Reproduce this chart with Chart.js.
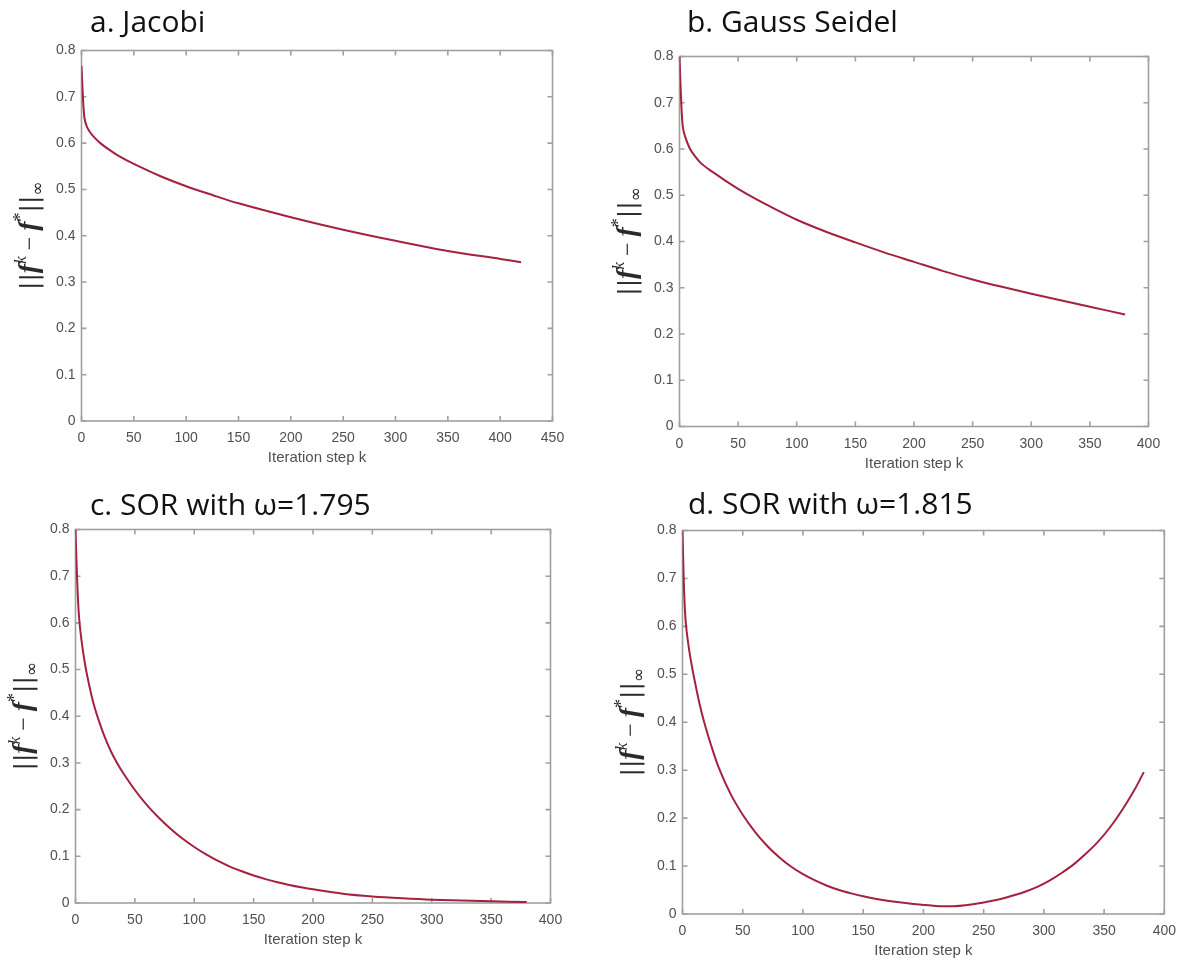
<!DOCTYPE html>
<html>
<head>
<meta charset="utf-8">
<title>Iterative solver convergence</title>
<script src="https://cdn.jsdelivr.net/npm/chart.js@4.4.1/dist/chart.umd.min.js"></script>
<style>
  html, body { margin: 0; padding: 0; background: #ffffff; }
  #page { position: relative; width: 1185px; height: 964px; overflow: hidden; }
  .panel { position: absolute; }
</style>
</head>
<body>
<div id="page"></div>
<script>
// ---- Data: error norm ||f^k - f*||_inf against iteration step k ----
const stepsJacobi = [0, 1, 2, 3, 5, 8, 12, 18, 25, 35, 50, 75, 100, 125, 150, 200, 250, 300, 350, 400, 420];
const errJacobi   = [0.767, 0.715, 0.675, 0.652, 0.636, 0.624, 0.613, 0.600, 0.588, 0.573, 0.555, 0.529, 0.507, 0.488, 0.470, 0.440, 0.413, 0.389, 0.367, 0.350, 0.343];

const stepsGauss = [0, 1, 2, 3, 5, 9, 13, 18, 25, 32, 40, 50, 65, 80, 100, 125, 150, 175, 200, 225, 250, 275, 300, 325, 350, 380];
const errGauss   = [0.80, 0.73, 0.675, 0.645, 0.625, 0.600, 0.585, 0.570, 0.556, 0.544, 0.530, 0.514, 0.492, 0.472, 0.447, 0.421, 0.398, 0.376, 0.356, 0.336, 0.318, 0.302, 0.287, 0.273, 0.259, 0.242];

const stepsSor1795 = [0, 1, 2, 3, 4, 6, 8, 10, 13, 16, 20, 25, 30, 35, 40, 50, 60, 70, 80, 90, 100, 110, 120, 130, 140, 150, 160, 170, 180, 190, 200, 225, 250, 275, 300, 350, 380];
const errSor1795   = [0.80, 0.72, 0.655, 0.612, 0.585, 0.545, 0.512, 0.485, 0.450, 0.420, 0.388, 0.353, 0.324, 0.300, 0.279, 0.242, 0.210, 0.183, 0.159, 0.138, 0.120, 0.104, 0.090, 0.078, 0.068, 0.059, 0.0512, 0.0445, 0.0387, 0.0337, 0.0293, 0.020, 0.014, 0.010, 0.007, 0.0035, 0.002];

const stepsSor1815 = [0, 1, 2, 3, 5, 7, 10, 14, 18, 24, 30, 40, 50, 60, 70, 80, 90, 100, 110, 120, 130, 140, 150, 160, 170, 180, 190, 200, 210, 218, 225, 235, 245, 255, 265, 275, 285, 295, 305, 315, 325, 335, 345, 355, 365, 375, 383];
const errSor1815   = [0.80, 0.70, 0.635, 0.60, 0.56, 0.528, 0.488, 0.44, 0.40, 0.35, 0.306, 0.250, 0.207, 0.172, 0.143, 0.119, 0.099, 0.083, 0.070, 0.059, 0.050, 0.043, 0.037, 0.032, 0.0278, 0.0243, 0.0213, 0.0189, 0.0168, 0.0160, 0.0163, 0.0185, 0.022, 0.0265, 0.032, 0.039, 0.047, 0.057, 0.070, 0.086, 0.104, 0.126, 0.151, 0.181, 0.217, 0.258, 0.296];

// Tick values and labels
const xTicks450 = [0, 50, 100, 150, 200, 250, 300, 350, 400, 450];
const xTicks400 = [0, 50, 100, 150, 200, 250, 300, 350, 400];
const yTicks = [0, 0.1, 0.2, 0.3, 0.4, 0.5, 0.6, 0.7, 0.8];
const yTickLabels = ['0', '0.1', '0.2', '0.3', '0.4', '0.5', '0.6', '0.7', '0.8'];

const panelTitles = ['a. Jacobi', 'b. Gauss Seidel', 'c. SOR with \u03c9=1.795', 'd. SOR with \u03c9=1.815'];
const xAxisTitle = 'Iteration step k';

// ---- Layout (page pixels) ----
const panels = [
  { box: {x: 0,   y: 0,   w: 592, h: 482}, area: {l: 81.5, t: 50.5, r: 552.5, b: 421}, title: {x: 90,  y: 32},
    steps: stepsJacobi, errs: errJacobi, xTicks: xTicks450, xMax: 450, titleText: panelTitles[0] },
  { box: {x: 592, y: 0,   w: 593, h: 482}, area: {l: 679.5, t: 56.5, r: 1148.5, b: 426.5}, title: {x: 687, y: 32},
    steps: stepsGauss, errs: errGauss, xTicks: xTicks400, xMax: 400, titleText: panelTitles[1] },
  { box: {x: 0,   y: 482, w: 592, h: 482}, area: {l: 75.5, t: 529.5, r: 550.5, b: 903}, title: {x: 90,  y: 515},
    steps: stepsSor1795, errs: errSor1795, xTicks: xTicks400, xMax: 400, titleText: panelTitles[2] },
  { box: {x: 592, y: 482, w: 593, h: 482}, area: {l: 682.5, t: 530.5, r: 1168.5, b: 914}, title: {x: 688, y: 514},
    steps: stepsSor1815, errs: errSor1815, xTicks: xTicks400, xMax: 400, titleText: panelTitles[3] }
];

const LINE_COLOR = '#a3223f';
const AXIS_COLOR = '#a0a0a0';
const TICK_TEXT = '#505050';

// Rotated y-axis label: ||f^k - f*||_inf with bold italic f
function drawNormLabel(ctx, cx, cy) {
  const segs = [
    { t: '||', f: '25px "DejaVu Serif"', dy: 0 },
    { t: 'f',  f: 'bold italic 28px "Liberation Serif"', dy: 0 },
    { t: 'k',  f: 'italic 17px "Liberation Serif"', dy: -11 },
    { t: ' \u2212 ', f: '24px "Liberation Serif"', dy: 0 },
    { t: 'f',  f: 'bold italic 28px "Liberation Serif"', dy: 0 },
    { t: '*',  f: '18px "Liberation Serif"', dy: -11 },
    { t: '||', f: '25px "DejaVu Serif"', dy: 0 },
    { t: '\u221e', f: '17px "DejaVu Sans"', dy: 6 }
  ];
  ctx.save();
  let total = 0;
  const widths = segs.map(s => { ctx.font = s.f; const w = ctx.measureText(s.t).width; total += w; return w; });
  ctx.translate(cx, cy);
  ctx.rotate(-Math.PI / 2);
  ctx.fillStyle = '#2a2a2a';
  ctx.textBaseline = 'alphabetic';
  ctx.textAlign = 'left';
  let xx = -total / 2;
  segs.forEach((s, i) => {
    ctx.font = s.f;
    ctx.fillText(s.t, xx, 9 + s.dy);
    xx += widths[i];
  });
  ctx.restore();
}

// Box frame with inward ticks on all four sides
const framePlugin = {
  id: 'frame',
  beforeDatasetsDraw(chart) {
    const { ctx, chartArea: a, scales: { x, y } } = chart;
    ctx.save();
    ctx.strokeStyle = AXIS_COLOR;
    ctx.lineWidth = 1.6;
    ctx.strokeRect(a.left, a.top, a.right - a.left, a.bottom - a.top);
    ctx.beginPath();
    x.ticks.forEach(t => {
      const px = x.getPixelForValue(t.value);
      ctx.moveTo(px, a.bottom); ctx.lineTo(px, a.bottom - 5);
      ctx.moveTo(px, a.top);    ctx.lineTo(px, a.top + 5);
    });
    y.ticks.forEach(t => {
      const py = y.getPixelForValue(t.value);
      ctx.moveTo(a.left, py);  ctx.lineTo(a.left + 5, py);
      ctx.moveTo(a.right, py); ctx.lineTo(a.right - 5, py);
    });
    ctx.stroke();
    ctx.restore();
  },
  afterDraw(chart, args, opts) {
    const { ctx, chartArea: a } = chart;
    ctx.save();
    // panel title
    ctx.fillStyle = '#111111';
    ctx.font = '30px "Open Sans"';
    ctx.textAlign = 'left';
    ctx.textBaseline = 'alphabetic';
    ctx.fillText(opts.text, opts.tx, opts.ty);
    // x-axis title
    ctx.fillStyle = TICK_TEXT;
    ctx.font = '15px "Liberation Sans"';
    ctx.textAlign = 'center';
    ctx.textBaseline = 'middle';
    ctx.fillText(xAxisTitle, (a.left + a.right) / 2, a.bottom + 37);
    ctx.restore();
    drawNormLabel(ctx, a.left - 54, (a.top + a.bottom) / 2);
  }
};

const page = document.getElementById('page');

panels.forEach(p => {
  const canvas = document.createElement('canvas');
  canvas.className = 'panel';
  canvas.width = p.box.w;
  canvas.height = p.box.h;
  canvas.style.left = p.box.x + 'px';
  canvas.style.top = p.box.y + 'px';
  canvas.style.width = p.box.w + 'px';
  canvas.style.height = p.box.h + 'px';
  page.appendChild(canvas);

  const yWidth = p.area.l - p.box.x;
  const xHeight = p.box.y + p.box.h - p.area.b;
  const padTop = p.area.t - p.box.y;
  const padRight = p.box.x + p.box.w - p.area.r;

  new Chart(canvas, {
    type: 'line',
    data: {
      datasets: [{
        data: p.steps.map((k, i) => ({ x: k, y: p.errs[i] })),
        borderColor: LINE_COLOR,
        borderWidth: 2,
        pointRadius: 0,
        fill: false,
        tension: 0.3
      }]
    },
    options: {
      responsive: false,
      animation: false,
      devicePixelRatio: 1,
      layout: { padding: { top: padTop, right: padRight, left: 0, bottom: 0 } },
      plugins: {
        legend: { display: false },
        tooltip: { enabled: false },
        title: { display: false },
        frame: { text: p.titleText, tx: p.title.x - p.box.x, ty: p.title.y - p.box.y }
      },
      scales: {
        x: {
          type: 'linear',
          min: 0,
          max: p.xMax,
          grid: { display: false, drawTicks: false },
          border: { display: false },
          afterBuildTicks: s => { s.ticks = p.xTicks.map(v => ({ value: v })); },
          afterFit: s => { s.height = xHeight; },
          ticks: {
            padding: 9,
            color: TICK_TEXT,
            font: { family: '"Liberation Sans"', size: 14 },
            maxRotation: 0,
            autoSkip: false,
            callback: (v, i) => String(p.xTicks[i])
          }
        },
        y: {
          type: 'linear',
          min: 0,
          max: 0.8,
          grid: { display: false, drawTicks: false },
          border: { display: false },
          afterBuildTicks: s => { s.ticks = yTicks.map(v => ({ value: v })); },
          afterFit: s => { s.width = yWidth; },
          ticks: {
            padding: 6,
            color: TICK_TEXT,
            font: { family: '"Liberation Sans"', size: 14 },
            autoSkip: false,
            callback: (v, i) => yTickLabels[i]
          }
        }
      }
    },
    plugins: [framePlugin]
  });
});
</script>
</body>
</html>
